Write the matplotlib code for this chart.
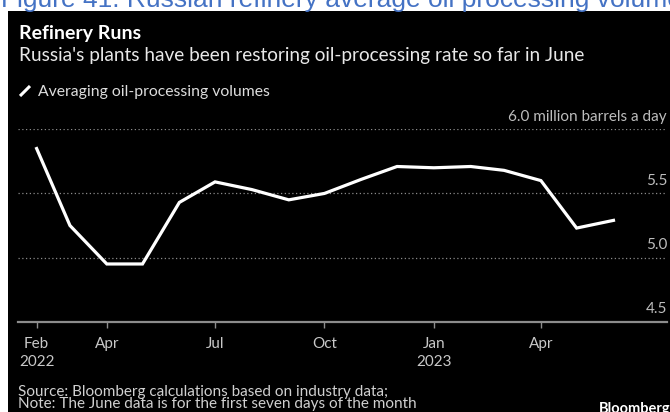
import matplotlib
matplotlib.use("Agg")
import matplotlib.pyplot as plt
import pandas as pd
from matplotlib.lines import Line2D
from matplotlib.patches import Rectangle
from matplotlib.transforms import blended_transform_factory, offset_copy

plt.rcParams['font.family'] = ['Lato', 'DejaVu Sans']

# monthly averages, million barrels a day
months = ["2022-02", "2022-03", "2022-04", "2022-05", "2022-06", "2022-07",
          "2022-08", "2022-09", "2022-10", "2022-11", "2022-12", "2023-01",
          "2023-02", "2023-03", "2023-04", "2023-05", "2023-06"]
runs = [5.85, 5.25, 4.95, 4.95, 5.43, 5.59, 5.53, 5.45, 5.50, 5.61,
        5.71, 5.70, 5.71, 5.68, 5.60, 5.23, 5.29]

yticks = [4.5, 5.0, 5.5, 6.0]
ytick_labels = ["4.5", "5.0", "5.5", "6.0 million barrels a day"]
xtick_dates = ["2022-02-01", "2022-04-01", "2022-07-01", "2022-10-01",
               "2023-01-01", "2023-04-01"]
xtick_labels = ["Feb\n2022", "Apr", "Jul", "Oct", "Jan\n2023", "Apr"]

W, H = 670, 412
fig = plt.figure(figsize=(W / 100, H / 100), dpi=100, facecolor="white")


def fx(px):
    return px / W


def fy(px):
    # pixel rows counted from the top
    return 1 - px / H


# black chart card under a cut-off report caption
fig.add_artist(Rectangle((fx(8), 0), 1 - fx(8), fy(11), transform=fig.transFigure,
                         facecolor="black", edgecolor="none", zorder=0))
fig.text(fx(1), fy(7.3), "Figure 41: Russian refinery average oil processing volume",
         family="Liberation Sans", fontsize=19, color="#4472c4", va="baseline")

fig.text(fx(19), fy(39), "Refinery Runs", fontsize=14, fontweight="bold",
         color="white", va="baseline")
fig.text(fx(19), fy(60.7),
         "Russia's plants have been restoring oil-processing rate so far in June",
         fontsize=13.7, color="#e8e8e8", va="baseline")

# legend swatch
fig.add_artist(Line2D([fx(20), fx(30)], [fy(96), fy(86)], transform=fig.transFigure,
                      color="white", lw=2.2, solid_capstyle="butt"))
fig.text(fx(38.4), fy(96), "Averaging oil-processing volumes", fontsize=11.3,
         color="#dddddd", va="baseline")

ax = fig.add_axes([fx(18), fy(321.7), fx(667) - fx(18), fy(129.3) - fy(321.7)])
ax.set_facecolor("none")

dates = pd.to_datetime(months)
ax.plot(dates, runs, color="white", lw=2.3, solid_joinstyle="miter", zorder=3)

ax.set_ylim(4.5, 6.0)
ax.set_xlim(pd.Timestamp("2022-01-16 08:00"), pd.Timestamp("2023-07-16"))

for v in yticks[1:]:
    ax.axhline(v, color="#8a8a8a", lw=0.9, linestyle=(0, (1, 2)), zorder=1)

for s in ["top", "left", "right"]:
    ax.spines[s].set_visible(False)
ax.spines["bottom"].set_color("#8c8c8c")
ax.spines["bottom"].set_linewidth(1.6)

ax.set_yticks([])
trans = offset_copy(blended_transform_factory(ax.transAxes, ax.transData),
                    fig=fig, x=0, y=8.5 * 0.72, units="points")
for v, lab in zip(yticks, ytick_labels):
    ax.text(1.0, v, lab, transform=trans, ha="right", va="baseline",
            fontsize=11, color="#bdbdbd")

ax.set_xticks(pd.to_datetime(xtick_dates))
ax.set_xticklabels(xtick_labels, fontsize=11, color="#c8c8c8", linespacing=1.4)
ax.tick_params(axis="x", direction="out", length=4, width=1, color="#8c8c8c", pad=7)
for t in ax.get_xticklabels():
    t.set_horizontalalignment("center")

fig.text(fx(18.3), fy(396), "Source: Bloomberg calculations based on industry data;",
         fontsize=11, color="#d0d0d0", va="baseline")
fig.text(fx(18.3), fy(408.3), "Note: The June data is for the first seven days of the month",
         fontsize=11, color="#d0d0d0", va="baseline")
fig.text(fx(599), fy(412.7), "Bloomberg", fontsize=10.5, fontweight="bold",
         color="white", va="baseline")

fig.savefig("out.png", dpi=100, facecolor="white")
